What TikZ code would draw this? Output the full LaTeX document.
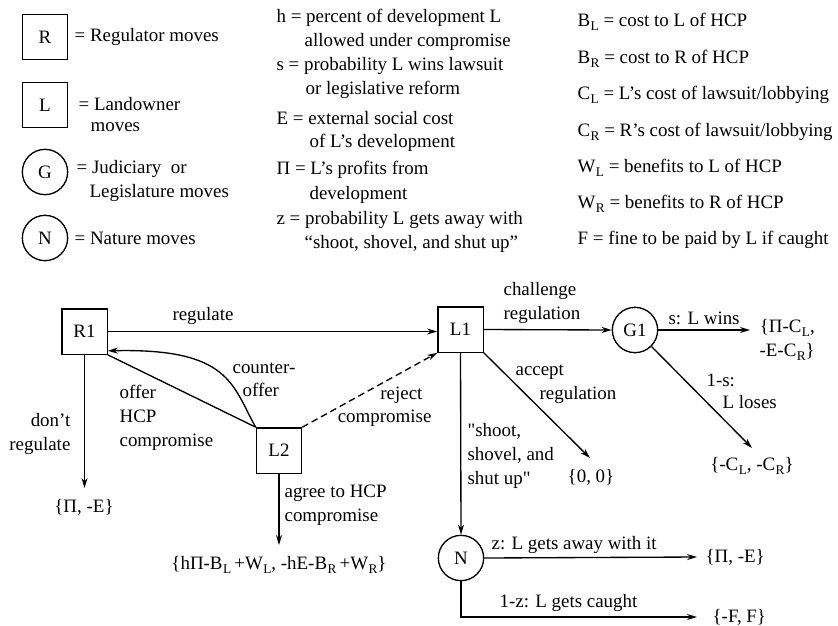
\documentclass[tikz,border=0pt]{standalone}
\usepackage{fontspec}
\setmainfont{Liberation Serif}
\usetikzlibrary{arrows.meta,calc}
% lowered subscript letter, as in B_L
\newcommand\lo[1]{\kern0.3pt\raisebox{-0.5ex}{\fontsize{10}{10}\selectfont #1}}

\begin{document}
\begin{tikzpicture}[x=0.75pt,y=-0.75pt,
  every node/.style={font=\fontsize{14.2}{18}\selectfont, inner sep=1pt},
  txt/.style={anchor=west},
  txtr/.style={anchor=east, align=right},
  multi/.style={anchor=west, align=left},
  movebox/.style={draw, line width=1pt, minimum width=34pt, minimum height=34pt, inner sep=0pt},
  movecirc/.style={draw, circle, line width=1pt, minimum size=34pt, inner sep=0pt},
  link/.style={line width=1pt},
  arr/.style={link, -{Stealth[length=7.5pt,width=4.5pt]}},
  payoff/.style={inner sep=1pt}
]
\useasboundingbox (0,0) rectangle (838,625);

% ---- key to the move symbols ----
\node[movebox]  (kR) at (45,37)  {R};
\node[txt] (kRt) at (73,37) {= Regulator moves};
\node[movebox]  (kL) at (45,105) {L};
\node[txt] (kLt) at (77,104) {= Landowner};
\node[txt] (kLt2) at (89,127) {moves};
\node[movecirc] (kG) at (45,172) {G};
\node[txt] (kGt) at (75,169) {= Judiciary~ or};
\node[txt] (kGt2) at (88,193) {Legislature moves};
\node[movecirc] (kN) at (45,238) {N};
\node[txt] (kNt) at (73,238) {= Nature moves};

% ---- parameters ----
\node[txt] (dh)  at (275,18)  {h = percent of development L};
\node[txt] (dh2) at (303,42)  {allowed under compromise};
\node[txt] (ds)  at (275,66)  {s = probability L wins lawsuit};
\node[txt] (ds2) at (304,90)  {or legislative reform};
\node[txt] (dE)  at (275,118) {E = external social cost};
\node[txt] (dE2) at (308,143) {of L’s development};
\node[txt] (dP)  at (275,170) {Π = L’s profits from};
\node[txt] (dP2) at (308,195) {development};
\node[txt] (dz)  at (275,220) {z = probability L gets away with};
\node[txt] (dz2) at (303,244) {“shoot, shovel, and shut up”};

\node[txt] (cBL) at (576,22)  {B\lo{L} = cost to L of HCP};
\node[txt] (cBR) at (576,59)  {B\lo{R} = cost to R of HCP};
\node[txt] (cCL) at (576,95)  {C\lo{L} = L’s cost of lawsuit/lobbying};
\node[txt] (cCR) at (576,132) {C\lo{R} = R’s cost of lawsuit/lobbying};
\node[txt] (cWL) at (576,168) {W\lo{L} = benefits to L of HCP};
\node[txt] (cWR) at (576,204) {W\lo{R} = benefits to R of HCP};
\node[txt] (cF)  at (576,240) {F = fine to be paid by L if caught};

% ---- game tree ----
\node[movebox]  (R1) at (84.5,331.5) {R1};
\node[movebox]  (L1) at (460.5,329.5) {L1};
\node[movebox]  (L2) at (279,450.5) {L2};
\node[movecirc] (G1) at (635,330) {G1};
\node[movecirc] (N)  at (461,558) {N};

% outcomes
\node[payoff] (o1) at (84,507) {\{Π, -E\}};
\node[payoff] (o2) at (279,565) {\{hΠ-B\lo{L}\,+W\lo{L}, -hE-B\lo{R}\,+W\lo{R}\}};
\node[payoff] (o3) at (591,477) {\{0, 0\}};
\node[payoff, anchor=west, align=right] (o4) at (758,340) {\{Π-C\lo{L},\\-E-C\lo{R}\}};
\node[payoff] (o5) at (752,466) {\{-C\lo{L}, -C\lo{R}\}};
\node[payoff, anchor=west] (o6) at (704,557) {\{Π, -E\}};
\node[payoff, anchor=west] (o7) at (711,617) {\{-F, F\}};

% free ends of branches
\coordinate (eG1) at (750,330);
\coordinate (eG2) at (752,448);
\coordinate (eA)  at (590,458);
\coordinate (eN1) at (697,557);
\coordinate (eNc) at (461,617);
\coordinate (eN2) at (697,617);

% branches
\draw[arr] (R1.east) -- (R1.east -| L1.west);
\draw[arr] (R1.south) -- (R1.south |- 0,488);
\draw[link] (R1.south east) -- (L2.north west);
\draw[arr] (L2.north west) .. controls (232,385) and (230,348) .. ($(R1.south east)+(0,-4)$);
\draw[arr, dashed, dash pattern=on 5pt off 3pt] (L2.north east) -- (L1.south west);
\draw[arr] (L2.south) -- (L2.south |- 0,545);
\draw[arr] (L1.east) -- (G1.west);
\draw[arr] (G1.east) -- (eG1);
\draw[arr] (G1.south east) -- (eG2);
\draw[arr] (L1.south east) -- (eA);
\draw[arr] (L1.south) -- (N.north);
\draw[arr] (N.east) -- (eN1);
\draw[arr] (N.south) -- (eNc) -- (eN2);

% branch labels
\node (lReg) at (203,316) {regulate};
\node[txtr] (lDont) at (72,434) {don’t\\regulate};
\node[multi] (lOffer) at (118,418) {offer\\HCP\\compromise};
\node[txt] (lCounter) at (231,368) {counter-};
\node[txt] (lCounter2) at (241,390) {offer};
\node[anchor=east] (lRej) at (424,395) {reject};
\node[anchor=east] (lRej2) at (433,418) {compromise};
\node[multi] (lAgree) at (283,505) {agree to HCP\\compromise};
\node[multi] (lChal) at (502,303) {challenge\\regulation};
\node[txt] (lAcc) at (514,372) {accept};
\node[txt] (lAcc2) at (538,395) {regulation};
\node[multi] (lSSS) at (466,456) {\textquotedbl shoot,\\shovel, and\\shut up\textquotedbl};
\node[txt] (lWin) at (667,318) {s: L wins};
\node[txt] (lLose) at (705,380) {1-s:};
\node[txt] (lLose2) at (721,402) {L loses};
\node[txt] (lAway) at (490,545) {z: L gets away with it};
\node[txt] (lCaught) at (498,603) {1-z: L gets caught};
\end{tikzpicture}
\end{document}
